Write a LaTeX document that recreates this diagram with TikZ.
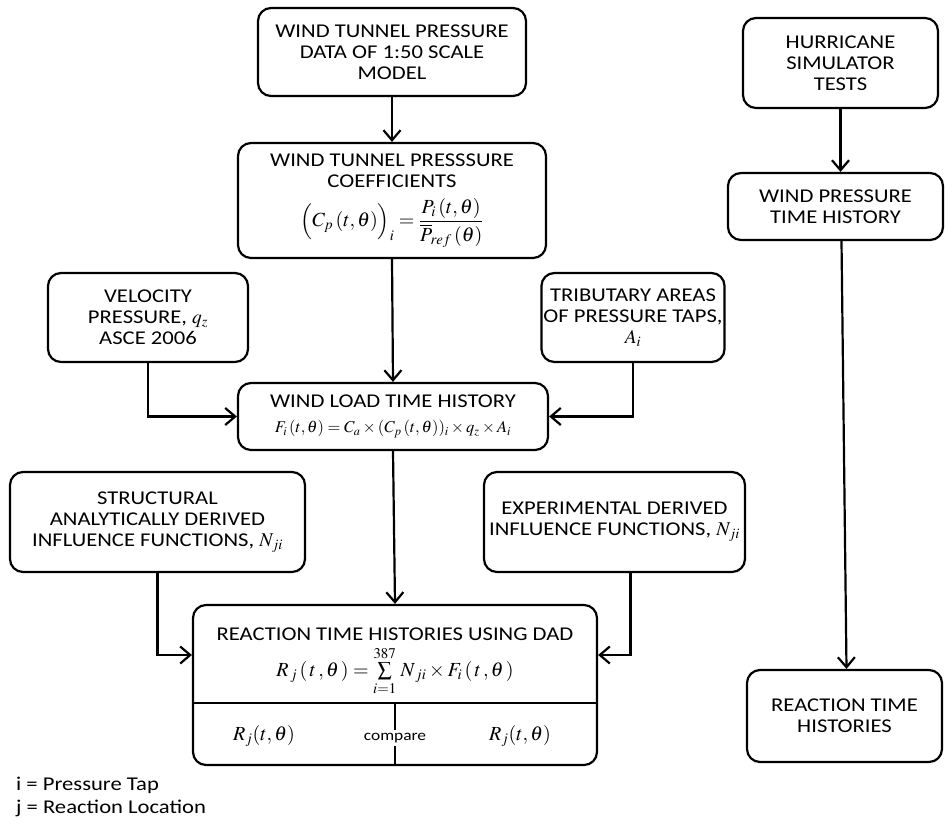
\documentclass[tikz,border=0pt]{standalone}
\usepackage{amsmath}
\usepackage{mathptmx}
\usepackage[no-math]{fontspec}
\setmainfont{Carlito}[FakeStretch=1.16]
\usetikzlibrary{arrows.meta,positioning}

\newcommand{\eqsize}{\fontsize{16.5}{20}\selectfont}
\newcommand{\bigeqsize}{\fontsize{20}{24}\selectfont}

\tikzset{
  box/.style={draw, line width=2.2pt, rounded corners=13pt, align=center,
    inner sep=2pt, font=\fontsize{19.5}{21}\selectfont},
  arr/.style={line width=2.2pt, -{Straight Barb[length=10pt,width=17pt,line width=2.2pt]}},
  lbl/.style={font=\fontsize{19.5}{21}\selectfont, inner sep=1pt}
}

\begin{document}
\begin{tikzpicture}[x=1pt,y=-1pt]
    %frame
    \useasboundingbox (0,0) rectangle (945,822);
    %left column
    \node[box, minimum width=268pt, minimum height=88pt] (tunnel) at (392,52)
      {WIND TUNNEL PRESSURE\\ DATA OF 1:50 SCALE\\ MODEL};
    \node[box, minimum width=308pt, minimum height=115pt] (coeff) at (392,200.5)
      {WIND TUNNEL PRESSSURE\\ COEFFICIENTS\\[10pt]
       {\bigeqsize$\Big(C_{p}\,(t,\theta)\Big)_{i}=\dfrac{P_{i}\,(t,\theta)}{\overline{P}_{\!ref}\,(\theta)}$}};
    \node[box, minimum width=200pt, minimum height=89pt] (velocity) at (148,317.5)
      {VELOCITY\\ PRESSURE, $q_z$\\ ASCE 2006};
    \node[box, minimum width=156pt, minimum height=89pt] (tributary) at (633,317.5)
      {TRIBUTARY AREAS\\ OF PRESSURE TAPS,\\ $A_i$};
    \node[box, minimum width=310pt, minimum height=67pt] (windload) at (393,416.5)
      {WIND LOAD TIME HISTORY\\[4pt]
       {\eqsize$F_{i}\,(t,\theta)=C_{a}\times(C_{p}\,(t,\theta))_{i}\times q_{z}\times A_{i}$}};
    \node[box, minimum width=295pt, minimum height=100pt] (structural) at (157.5,522)
      {STRUCTURAL\\ ANALYTICALLY DERIVED\\ INFLUENCE FUNCTIONS, $N_{ji}$};
    \node[box, minimum width=261pt, minimum height=100pt] (experimental) at (614.5,522)
      {EXPERIMENTAL DERIVED\\ INFLUENCE FUNCTIONS, $N_{ji}$};
    \node[box, minimum width=404pt, minimum height=160pt] (reaction) at (395,685) {};
    \node[lbl] (rtitle) at (395,634) {REACTION TIME HISTORIES USING DAD};
    \node[lbl, font=\bigeqsize] (rformula) at (395,671)
      {$R_{\,j}\,(\,t\,,\theta\,)=\sum\limits_{i=1}^{387}\,N_{\,ji}\times F_{i}\,(\,t\,,\theta\,)$};
    \draw[line width=2.2pt] (reaction.west |- 0,703) -- (reaction.east |- 0,703);
    \draw[line width=2.2pt] (395,703) -- (reaction.south);
    \node[lbl, font=\bigeqsize] (ranalytic) at (264,736) {$R_j(t,\theta)$};
    \node[lbl, fill=white, font=\fontsize{15}{18}\selectfont, inner sep=3pt] (compare) at (395,738) {compare};
    \node[lbl, font=\bigeqsize] (rexperiment) at (520,736) {$R_j(t,\theta)$};
    %right column
    \node[box, minimum width=195pt, minimum height=90pt] (hurricane) at (840.5,63)
      {HURRICANE\\ SIMULATOR\\ TESTS};
    \node[box, minimum width=215pt, minimum height=67pt] (windpress) at (835.5,206.5)
      {WIND PRESSURE\\ TIME HISTORY};
    \node[box, minimum width=195pt, minimum height=92pt] (reacright) at (844.5,716)
      {REACTION TIME\\ HISTORIES};
    %legend
    \node[lbl, anchor=west] (tapkey) at (15,785) {i = Pressure Tap};
    \node[lbl, anchor=west] (lockey) at (15,808) {j = Reaction Location};
    %connectors
    \draw[arr] (tunnel.south) -- (coeff.north);
    \draw[arr] (coeff.south) -- (windload.north);
    \draw[arr] (velocity.south) |- (windload.west);
    \draw[arr] (tributary.south) |- (windload.east);
    \draw[arr] (windload.south) -- (reaction.north);
    \draw[arr] (structural.south) |- ([yshift=30pt]reaction.west);
    \draw[arr] ([xshift=16pt]experimental.south) |- ([yshift=30pt]reaction.east);
    \draw[arr] (hurricane.south) -- (hurricane.south |- windpress.north);
    \draw[arr] ([xshift=6pt]windpress.south) -- ([xshift=2pt]reacright.north);
\end{tikzpicture}
\end{document}
